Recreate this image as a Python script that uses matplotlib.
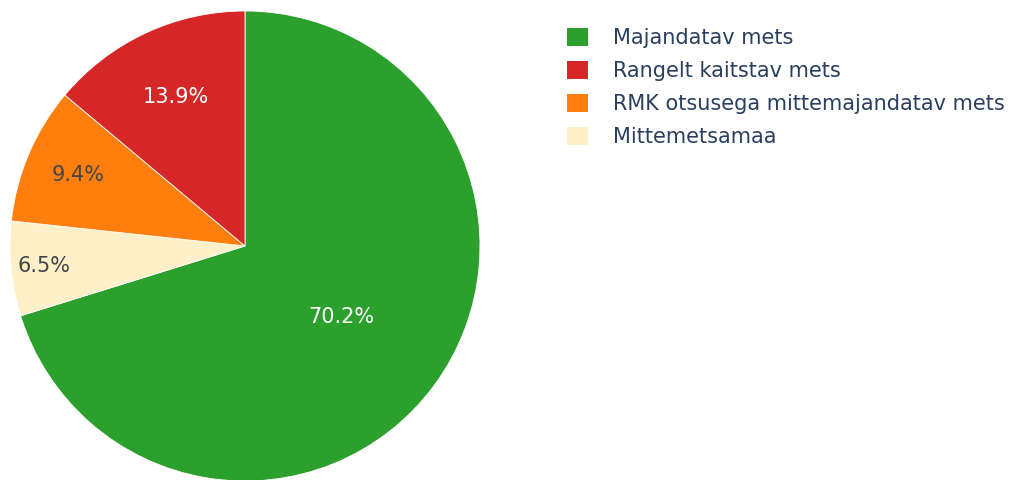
import numpy as np
import matplotlib.pyplot as plt
from matplotlib.patches import Patch

# data (legend order)
labels = ["Majandatav mets", "Rangelt kaitstav mets",
          "RMK otsusega mittemajandatav mets", "Mittemetsamaa"]
shares = [70.2, 13.9, 9.4, 6.5]
colors = ["#2ca02c", "#d62728", "#ff7f0e", "#fdf0c8"]
text_colors = ["white", "white", "#444444", "#444444"]
label_dist = [0.51, 0.70, 0.77, 0.86]

# slices run clockwise from 12 o'clock: green, cream, orange, red
draw_order = [0, 3, 2, 1]

plt.rcParams["font.family"] = ["DejaVu Sans"]

fig = plt.figure(figsize=(10.11, 4.8), dpi=100)
ax = fig.add_axes([10 / 1011, -1 / 480, 470 / 1011, 470 / 480])

vals = [shares[i] for i in draw_order]
wedges, texts, autotexts = ax.pie(
    vals,
    colors=[colors[i] for i in draw_order],
    startangle=90,
    counterclock=False,
    autopct="%.1f%%",
    radius=1.0,
    wedgeprops=dict(linewidth=0.6, edgecolor="white"),
    textprops=dict(fontsize=15),
)

for w, t, i in zip(wedges, autotexts, draw_order):
    ang = np.deg2rad((w.theta1 + w.theta2) / 2)
    d = label_dist[i]
    t.set_position((d * np.cos(ang), d * np.sin(ang)))
    t.set_color(text_colors[i])
    t.set_ha("center")
    t.set_va("center")

ax.set_xlim(-1.0, 1.0)
ax.set_ylim(-1.0, 1.0)
ax.set_aspect("equal")

handles = [Patch(facecolor=c, edgecolor="none") for c in colors]
fig.legend(handles, labels, loc="upper left",
           bbox_to_anchor=(548 / 1011, 1 - 9 / 480),
           frameon=False, fontsize=15, labelcolor="#2a3f5f",
           handlelength=1.0, handleheight=1.0, handletextpad=1.2,
           labelspacing=0.6, borderpad=0.4)

fig.savefig("out.png", dpi=100, facecolor="white")
